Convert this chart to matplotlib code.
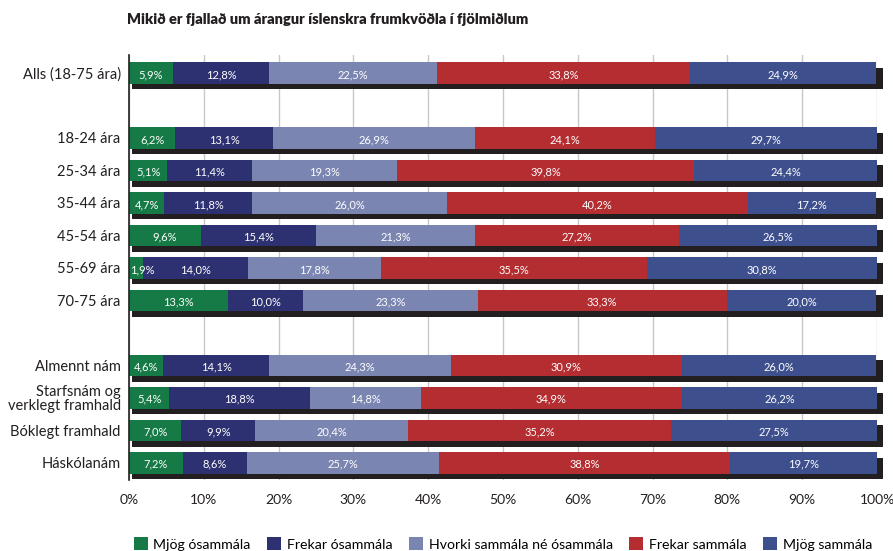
import matplotlib
matplotlib.use('Agg')
import matplotlib.pyplot as plt
import numpy as np

plt.rcParams['font.family'] = ['Lato', 'DejaVu Sans']

title = 'Mikið er fjallað um árangur íslenskra frumkvöðla í fjölmiðlum'
series = ['Mjög ósammála', 'Frekar ósammála', 'Hvorki sammála né ósammála',
          'Frekar sammála', 'Mjög sammála']
colors = ['#167a46', '#2e3171', '#7b85b1', '#b42d31', '#3e4f8e']

# groups of rows, separated by a blank row
group_total = ['Alls (18-75 ára)']
group_age = ['18-24 ára', '25-34 ára', '35-44 ára', '45-54 ára', '55-69 ára', '70-75 ára']
group_edu = ['Almennt nám', 'Starfsnám og\nverklegt framhald', 'Bóklegt framhald', 'Háskólanám']

vals_total = [[5.9, 12.8, 22.5, 33.8, 24.9]]
vals_age = [
    [6.2, 13.1, 26.9, 24.1, 29.7],
    [5.1, 11.4, 19.3, 39.8, 24.4],
    [4.7, 11.8, 26.0, 40.2, 17.2],
    [9.6, 15.4, 21.3, 27.2, 26.5],
    [1.9, 14.0, 17.8, 35.5, 30.8],
    [13.3, 10.0, 23.3, 33.3, 20.0],
]
vals_edu = [
    [4.6, 14.1, 24.3, 30.9, 26.0],
    [5.4, 18.8, 14.8, 34.9, 26.2],
    [7.0, 9.9, 20.4, 35.2, 27.5],
    [7.2, 8.6, 25.7, 38.8, 19.7],
]

labels, values, ypos = [], [], []
slot = 0
for g_lab, g_val in [(group_total, vals_total), (group_age, vals_age), (group_edu, vals_edu)]:
    for lab, v in zip(g_lab, g_val):
        labels.append(lab)
        values.append(v)
        ypos.append(slot)
        slot += 1
    slot += 1
values = np.array(values)
ypos = np.array(ypos)

fig = plt.figure(figsize=(8.93, 5.51), dpi=100)
ax = fig.add_axes([129 / 893, 1 - 480 / 551, 748 / 893, 425 / 551])

h = 0.66
# drop shadow
ax.barh(ypos + 0.17, [100.4] * len(ypos), left=0.4, height=h, color='#231f20',
        zorder=2, clip_on=False)

left = np.zeros(len(ypos))
for j, name in enumerate(series):
    ax.barh(ypos, values[:, j], left=left, height=h, color=colors[j], label=name, zorder=3)
    for y, l, w in zip(ypos, left, values[:, j]):
        txt = f'{w:.1f}%'.replace('.', ',')
        if w < 3:
            ax.text(l + 0.2, y + 0.05, txt, ha='left', va='center', color='white', fontsize=8, zorder=4)
        else:
            ax.text(l + w / 2, y + 0.05, txt, ha='center', va='center', color='white', fontsize=8, zorder=4)
    left += values[:, j]

ax.set_xlim(0, 100)
ax.set_ylim(ypos[-1] + 0.53, -0.55)
ax.set_yticks(ypos)
ax.set_yticklabels(labels, fontsize=10.5, color='#231f20', linespacing=0.95)
ax.set_xticks(np.arange(0, 101, 10))
ax.set_xticklabels([f'{t}%' for t in range(0, 101, 10)], fontsize=10, color='#231f20')
ax.tick_params(axis='both', length=0, pad=6)
ax.tick_params(axis='x', pad=10)
ax.grid(axis='x', color='#c8c8c8', linewidth=1, zorder=0)
ax.set_axisbelow(True)
for s in ['top', 'right', 'bottom']:
    ax.spines[s].set_visible(False)
ax.spines['left'].set_color('#231f20')
ax.spines['left'].set_linewidth(1.2)
ax.spines['left'].set_zorder(5)

fig.text(127 / 893, 1 - 19 / 551, title, fontsize=10.5, fontweight='heavy', color='#231f20', va='center')

fig.legend(loc='center', bbox_to_anchor=(0.563, 1 - 544 / 551), ncol=5, frameon=False,
           fontsize=10.2, handlelength=1.0, handleheight=1.0, handletextpad=0.4,
           columnspacing=1.15, borderaxespad=0)

fig.savefig('out.png', dpi=100)
